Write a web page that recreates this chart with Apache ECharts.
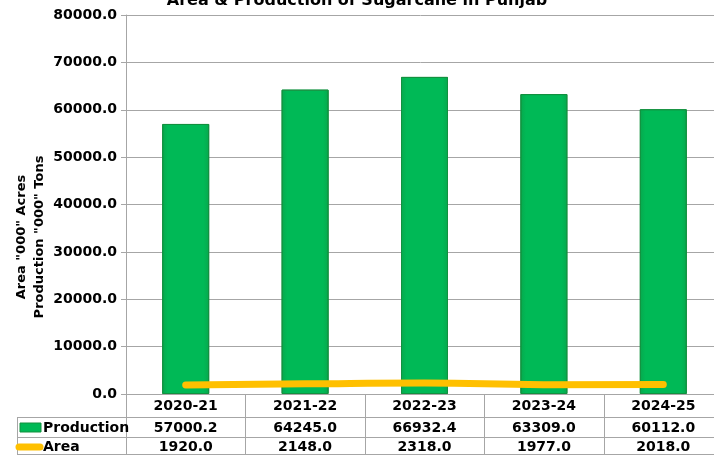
<!DOCTYPE html>
<html>
<head>
<meta charset="utf-8">
<script src="https://cdn.jsdelivr.net/npm/echarts@6/dist/echarts.min.js"></script>
<style>
  html, body { margin: 0; padding: 0; background: #fff; }
  #chart { width: 714px; height: 455px; }
</style>
</head>
<body>
<div id="chart"></div>
<script>
// Sugarcane in Punjab: production ('000 tons) and area ('000 acres)
const years = ['2020-21', '2021-22', '2022-23', '2023-24', '2024-25'];
const production = [57000.2, 64245.0, 66932.4, 63309.0, 60112.0];
const area = [1920.0, 2148.0, 2318.0, 1977.0, 2018.0];
const yTicks = { min: 0, max: 80000, interval: 10000 };

const FONT = '"DejaVu Sans", Verdana, sans-serif';
const GRID_LINE = '#a6a6a6';
const BAR_GREEN = '#00b956';
const LINE_YELLOW = '#ffc000';

const chart = echarts.init(document.getElementById('chart'));

const fmt = v => v.toFixed(1);

chart.setOption({
  animation: false,
  title: {
    text: 'Area & Production of Sugarcane in Punjab',
    left: 'center',
    top: -12,
    textStyle: { fontFamily: FONT, fontWeight: 'bold', fontSize: 16, color: '#000' }
  },
  // plot runs slightly past the right edge of the canvas
  grid: {
    left: 126, width: 597, top: 15, bottom: 61,
    containLabel: false, outerBoundsMode: 'none'
  },
  xAxis: {
    type: 'category',
    data: years,
    boundaryGap: true,
    axisLine: { show: true, lineStyle: { color: GRID_LINE, width: 1 } },
    axisTick: { show: false },
    axisLabel: { show: false }
  },
  yAxis: {
    type: 'value',
    min: yTicks.min,
    max: yTicks.max,
    interval: yTicks.interval,
    axisLine: { show: true, lineStyle: { color: GRID_LINE, width: 1 } },
    axisTick: { show: true, length: 5, lineStyle: { color: GRID_LINE } },
    axisLabel: {
      formatter: v => fmt(v),
      fontFamily: FONT, fontWeight: 'bold', fontSize: 14, color: '#000', margin: 9
    },
    splitLine: { show: true, lineStyle: { color: GRID_LINE, width: 1 } }
  },
  series: [
    {
      name: 'Production',
      type: 'bar',
      data: production,
      barWidth: 47,
      itemStyle: {
        color: new echarts.graphic.LinearGradient(0, 0, 1, 0, [
          { offset: 0, color: '#07a84d' },
          { offset: 0.12, color: BAR_GREEN },
          { offset: 0.88, color: BAR_GREEN },
          { offset: 1, color: '#07a84d' }
        ]),
        borderColor: '#12913f',
        borderWidth: 1
      },
      z: 2
    },
    {
      name: 'Area',
      type: 'line',
      data: area,
      smooth: true,
      symbol: 'none',
      lineStyle: { color: LINE_YELLOW, width: 7, cap: 'round' },
      z: 3
    }
  ]
});

// Data table under the plot, laid out from the category axis positions
function drawTable() {
  const c0 = chart.convertToPixel({ xAxisIndex: 0 }, 0);
  const c1 = chart.convertToPixel({ xAxisIndex: 0 }, 1);
  const band = c1 - c0;
  const yZero = chart.convertToPixel({ yAxisIndex: 0 }, 0);
  const tableLeft = 17;
  const plotLeft = c0 - band / 2;
  const right = 714;
  const rowTops = [yZero, yZero + 23, yZero + 43, 455];
  const lineStyle = { stroke: GRID_LINE, lineWidth: 1 };
  const els = [];

  // horizontal rules
  els.push({ type: 'line', shape: { x1: tableLeft, y1: rowTops[1] + 0.5, x2: right, y2: rowTops[1] + 0.5 }, style: lineStyle });
  els.push({ type: 'line', shape: { x1: tableLeft, y1: rowTops[2] + 0.5, x2: right, y2: rowTops[2] + 0.5 }, style: lineStyle });
  els.push({ type: 'line', shape: { x1: tableLeft, y1: 454.5, x2: right, y2: 454.5 }, style: lineStyle });
  // vertical rules
  els.push({ type: 'line', shape: { x1: tableLeft + 0.5, y1: rowTops[1], x2: tableLeft + 0.5, y2: 455 }, style: lineStyle });
  for (let i = 0; i <= years.length; i++) {
    const x = Math.round(plotLeft + band * i) + 0.5;
    els.push({ type: 'line', shape: { x1: x, y1: yZero, x2: x, y2: 455 }, style: lineStyle });
  }

  const textStyle = (t, x, y, align) => ({
    type: 'text',
    x: x, y: y,
    style: {
      text: t, fill: '#000',
      font: 'bold 14px ' + FONT,
      textAlign: align || 'center', textVerticalAlign: 'middle'
    },
    z: 10
  });

  const mid = i => (rowTops[i] + rowTops[i + 1]) / 2;
  years.forEach((yr, i) => {
    const cx = chart.convertToPixel({ xAxisIndex: 0 }, i);
    els.push(textStyle(yr, cx, mid(0) + 1));
    els.push(textStyle(fmt(production[i]), cx, mid(1) + 1));
    els.push(textStyle(fmt(area[i]), cx, mid(2) + 1));
  });

  // legend keys in the first column
  els.push({
    type: 'rect',
    shape: { x: 20, y: mid(1) - 4, width: 21, height: 9 },
    style: { fill: BAR_GREEN, stroke: '#12913f', lineWidth: 1 }
  });
  els.push(textStyle('Production', 43, mid(1) + 1, 'left'));
  els.push({
    type: 'line',
    shape: { x1: 19, y1: mid(2) + 1, x2: 40, y2: mid(2) + 1 },
    style: { stroke: LINE_YELLOW, lineWidth: 7, lineCap: 'round' }
  });
  els.push(textStyle('Area', 43, mid(2) + 1, 'left'));

  // axis title
  els.push({
    type: 'text',
    x: 31, y: 237,
    rotation: Math.PI / 2,
    style: {
      text: 'Area "000" Acres\nProduction "000" Tons',
      fill: '#000',
      font: 'bold 13px ' + FONT,
      textAlign: 'center', textVerticalAlign: 'middle',
      lineHeight: 18
    }
  });

  chart.setOption({ graphic: { elements: els } });
}
drawTable();
</script>
</body>
</html>
